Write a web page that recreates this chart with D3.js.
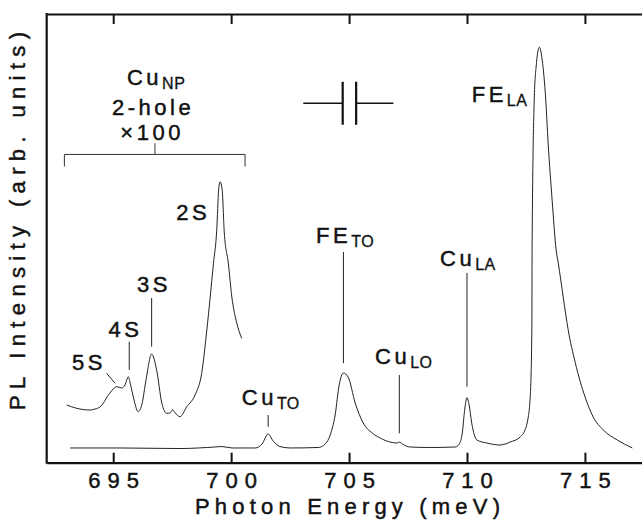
<!DOCTYPE html>
<html>
<head>
<meta charset="utf-8">
<script src="https://cdn.jsdelivr.net/npm/d3@7"></script>
<style>
  body { margin: 0; background: #fff; }
  svg { display: block; font-family: "Liberation Sans", Arial, sans-serif; }
</style>
</head>
<body>
<div id="chart"></div>
<script>
// photon energy (meV) and PL intensity (arb. units)
const mainEnergy = [693.17, 695.29, 697.83, 699.32, 699.62, 700.04, 701.02, 701.31, 701.57, 701.78,
  702.07, 702.50, 703.69, 703.99, 704.20, 704.41, 704.58, 704.76, 704.96, 705.26,
  705.60, 705.98, 706.32, 706.74, 707.04, 707.13, 707.29, 707.59, 708.44, 709.51,
  709.67, 709.80, 709.90, 710.00, 710.09, 710.20, 710.42, 710.84, 711.40, 711.83,
  712.25, 712.46, 712.55, 712.68, 712.75, 712.76, 712.85, 712.93, 713.07, 713.19,
  713.34, 713.44, 713.61, 713.78, 713.87, 714.08, 714.29, 714.59, 715.01, 715.35,
  715.78, 716.37, 717.01];
const mainIntensity = [3.28, 3.28, 3.16, 3.5, 3.6, 3.28, 3.28, 4.17, 6.4, 4.84,
  3.6, 3.28, 3.39, 4.17, 6.17, 10.63, 17.32, 19.99, 19.1, 13.3,
  8.85, 6.62, 5.5, 4.6, 4.39, 4.6, 4.06, 3.5, 3.39, 3.5,
  4.17, 6.6, 11.7, 14.5, 12.86, 8.85, 5.06, 4.39, 3.94, 4.6,
  5.72, 7.29, 8.85, 14.6, 29.6, 47.86, 80.8, 88.2, 92.6, 89.7,
  80.8, 71.25, 58.5, 47.4, 44.5, 36.9, 29.6, 22.3, 14.6, 10.2,
  7.29, 5.06, 3.28];

// Cu_NP 2-hole region, x100
const holeEnergy = [693.03, 693.45, 694.02, 694.23, 694.44, 694.86, 695.15, 695.36, 695.50, 695.64,
  695.73, 695.85, 696.06, 696.22, 696.39, 696.63, 696.84, 697.06, 697.27, 697.41,
  697.52, 697.62, 697.83, 698.12, 698.47, 698.75, 698.97, 699.25, 699.39, 699.47,
  699.53, 699.62, 699.71, 699.88, 700.03, 700.24, 700.45];
const holeIntensity = [12.86, 12.12, 11.74, 11.97, 12.41, 15.53, 16.94, 16.65, 17.32, 19.17,
  17.5, 14.7, 11.37, 13.1, 18.4, 24.2, 20.7, 13.3, 11.0, 11.1,
  11.74, 11.14, 10.25, 12.48, 15.09, 19.9, 29.6, 44.4, 51.9, 60.8,
  62.6, 60.8, 51.2, 44.5, 36.9, 31.1, 27.7];

const xTicks = [695, 700, 705, 710, 715];

// peak labels: text, subscript, anchor energy, baseline intensity, anchor
const labelText = ["2S", "3S", "4S", "5S", "Cu", "2-hole", "\u00d7100", "Cu", "FE", "Cu", "Cu", "FE"];
const labelSub = ["", "", "", "", "NP", "", "", "TO", "TO", "LO", "LA", "LA"];
const labelE = [699.11, 696.73, 695.52, 693.97, 696.82, 696.69, 696.65, 700.45, 703.6, 706.1, 708.86, 710.2];
const labelI = [54.1, 38.1, 27.95, 20.66, 84.1, 77.6, 71.9, 12.86, 48.96, 22.0, 43.84, 80.28];
const labelAnchor = ["end", "middle", "middle", "middle", "middle", "middle", "middle", "start", "start", "start", "start", "start"];

// leader lines: [E1, I1, E2, I2]
const leaders = [
  [696.63, 36.7, 696.63, 25.85],
  [695.68, 26.97, 695.68, 20.66],
  [694.72, 19.92, 695.08, 17.7],
  [701.57, 10.63, 701.57, 8.02],
  [704.76, 46.96, 704.76, 22.2],
  [707.13, 19.55, 707.13, 6.55],
  [710.0, 42.28, 710.0, 16.94]
];

const width = 642, height = 521;
const margin = { top: 14, left: 46.7, bottom: 58.3 };

const x = d3.scaleLinear().domain([692.18, 717.42]).range([margin.left, width]);
const y = d3.scaleLinear().domain([0, 100]).range([height - margin.bottom, margin.top]);

const svg = d3.select("#chart").append("svg")
  .attr("width", width).attr("height", height);

const ink = "#111";
// the printed lettering is a little heavier than plain Arial
const thicken = sel => sel.attr("stroke", ink).attr("stroke-width", 0.45);

// AXES
const axisB = svg.append("g")
  .attr("transform", `translate(0,${y(0)})`)
  .call(d3.axisBottom(x).tickValues(xTicks).tickSizeInner(-10).tickSizeOuter(0).tickFormat(d3.format("d")));
const axisT = svg.append("g")
  .attr("transform", `translate(0,${y(100)})`)
  .call(d3.axisTop(x).tickValues(xTicks).tickSizeInner(-10).tickSizeOuter(0).tickFormat(""));
[axisB, axisT].forEach(g => {
  g.select(".domain").attr("stroke", ink).attr("stroke-width", 2.2);
  g.selectAll(".tick line").attr("stroke", ink).attr("stroke-width", 2);
});
axisB.selectAll(".tick text")
  .attr("y", 25).attr("dy", 0)
  .attr("fill", ink)
  .attr("font-size", 22)
  .attr("font-family", "Liberation Sans, Arial, sans-serif")
  .attr("letter-spacing", 7)
  .attr("dx", 3.5)
  .call(thicken);

svg.append("line")
  .attr("x1", x(692.18)).attr("x2", x(692.18))
  .attr("y1", y(100) - 1).attr("y2", y(0) + 1)
  .attr("stroke", ink).attr("stroke-width", 2.2);

// TITLES
svg.append("text")
  .attr("x", 347.5).attr("y", 514)
  .attr("text-anchor", "middle")
  .attr("font-size", 22).attr("fill", ink)
  .attr("textLength", 305).attr("lengthAdjust", "spacing")
  .call(thicken)
  .text("Photon Energy (meV)");

svg.append("text")
  .attr("transform", `translate(25,${221}) rotate(-90)`)
  .attr("text-anchor", "middle")
  .attr("font-size", 22).attr("fill", ink)
  .attr("textLength", 378).attr("lengthAdjust", "spacing")
  .call(thicken)
  .text("PL Intensity (arb. units)");

// SPECTRA
const line = d3.line().x(d => x(d[0])).y(d => y(d[1])).curve(d3.curveMonotoneX);

svg.append("path")
  .datum(mainEnergy.map((e, i) => [e, mainIntensity[i]]))
  .attr("fill", "none").attr("stroke", "#222").attr("stroke-width", 1)
  .attr("d", line);

svg.append("path")
  .datum(holeEnergy.map((e, i) => [e, holeIntensity[i]]))
  .attr("fill", "none").attr("stroke", "#222").attr("stroke-width", 1)
  .attr("d", line);

// LEADERS
svg.append("g").selectAll("line").data(leaders).join("line")
  .attr("x1", d => x(d[0])).attr("y1", d => y(d[1]))
  .attr("x2", d => x(d[2])).attr("y2", d => y(d[3]))
  .attr("stroke", "#222").attr("stroke-width", 1);

// BRACKET over the x100 part
const br = { e0: 692.93, e1: 700.59, em: 696.77, iy: 68.7, iend: 66.0, itop: 71.2 };
svg.append("path")
  .attr("fill", "none").attr("stroke", "#333").attr("stroke-width", 1)
  .attr("d", `M${x(br.e0)},${y(br.iend)}V${y(br.iy)}H${x(br.e1)}V${y(br.iend)}M${x(br.em)},${y(br.iy)}V${y(br.itop)}`);

// AXIS BREAK SYMBOL
const brk = { e0: 703.06, e1: 704.73, e2: 705.30, e3: 706.88, iy: 80.1, ilo: 75.3, ihi: 84.9 };
svg.append("path")
  .attr("fill", "none").attr("stroke", ink).attr("stroke-width", 1.6)
  .attr("d", `M${x(brk.e0)},${y(brk.iy)}H${x(brk.e1)}M${x(brk.e2)},${y(brk.iy)}H${x(brk.e3)}`);
svg.append("path")
  .attr("fill", "none").attr("stroke", ink).attr("stroke-width", 2.2)
  .attr("d", `M${x(brk.e1)},${y(brk.ihi)}V${y(brk.ilo)}M${x(brk.e2)},${y(brk.ihi)}V${y(brk.ilo)}`);

// LABELS
const labels = svg.append("g")
  .attr("font-size", 22).attr("fill", ink)
  .selectAll("text").data(labelText).join("text")
  .attr("x", (d, i) => x(labelE[i]))
  .attr("y", (d, i) => y(labelI[i]))
  .attr("text-anchor", (d, i) => labelAnchor[i])
  .attr("letter-spacing", 3.5)
  .call(thicken);
labels.append("tspan").text(d => d);
labels.append("tspan")
  .attr("font-size", 16).attr("dy", 4).attr("letter-spacing", 0.5)
  .attr("stroke-width", 0.3)
  .text((d, i) => labelSub[i]);
</script>
</body>
</html>
